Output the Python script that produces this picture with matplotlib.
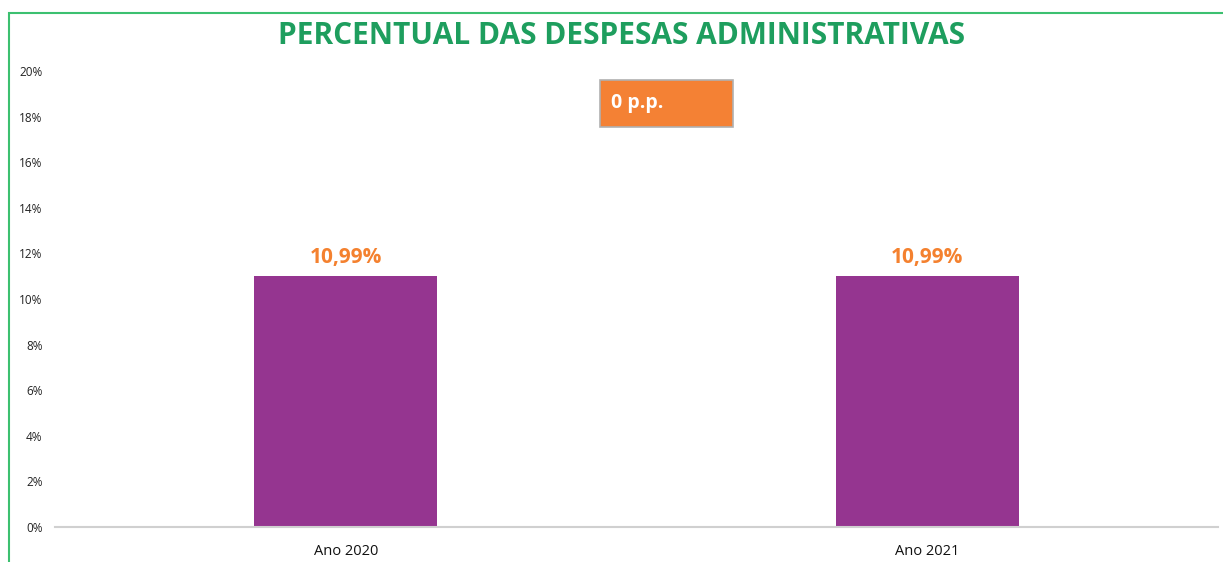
import matplotlib.pyplot as plt
from matplotlib.patches import Rectangle

# dados
categorias = ["Ano 2020", "Ano 2021"]
percentuais = [10.99, 10.99]
rotulos = ["10,99%", "10,99%"]
variacao = "0 p.p."
titulo = "PERCENTUAL DAS DESPESAS ADMINISTRATIVAS"

W, H = 1223, 562
fig = plt.figure(figsize=(W / 100, H / 100), dpi=100)
fig.patch.set_facecolor("white")

# borda verde do quadro
fig.add_artist(Rectangle((8.5 / W, 0 - 0.05), 1.1, (H - 12.5) / H + 0.05,
                         transform=fig.transFigure, fill=False,
                         edgecolor="#3cc070", linewidth=1.5))

ax = fig.add_axes([55 / W, (H - 527) / H, (1218 - 55) / W, (527 - 71) / H])
x = range(len(categorias))
ax.bar(x, percentuais, width=0.315, color="#953590", zorder=2)
ax.set_xlim(-0.5, 1.5)
ax.set_ylim(0, 20)
ax.set_yticks(range(0, 21, 2))
ax.set_yticklabels([f"{v}%" for v in range(0, 21, 2)], fontsize=8.5,
                   family="Open Sans", color="#222222")
ax.set_xticks(list(x))
ax.set_xticklabels(categorias, fontsize=10.5, family="Open Sans", color="#111111")
ax.tick_params(axis="y", length=0, pad=9)
ax.tick_params(axis="x", length=0, pad=12)
for s in ["top", "right", "left"]:
    ax.spines[s].set_visible(False)
ax.spines["bottom"].set_color("#d0d0d0")
ax.spines["bottom"].set_linewidth(1.5)

for xi, v, r in zip(x, percentuais, rotulos):
    ax.annotate(r, (xi, v), xytext=(0, 6), textcoords="offset points",
                ha="center", va="bottom", fontsize=15, fontweight="bold",
                family="Open Sans", color="#f4812f")

fig.text(622 / W, 1 - 36 / H, titulo, ha="center", va="center",
         fontsize=21.5, fontweight="bold", family="Open Sans", color="#1e9e5e")

# caixa de variacao
fig.add_artist(Rectangle((600 / W, 1 - 127 / H), 133 / W, 47 / H,
                         transform=fig.transFigure, facecolor="#f48134",
                         edgecolor="#b0b0b0", linewidth=1.2))
fig.text(611 / W, 1 - 103 / H, variacao, ha="left", va="center",
         fontsize=14, fontweight="bold", family="Open Sans", color="white")

fig.savefig("out.png", dpi=100)
